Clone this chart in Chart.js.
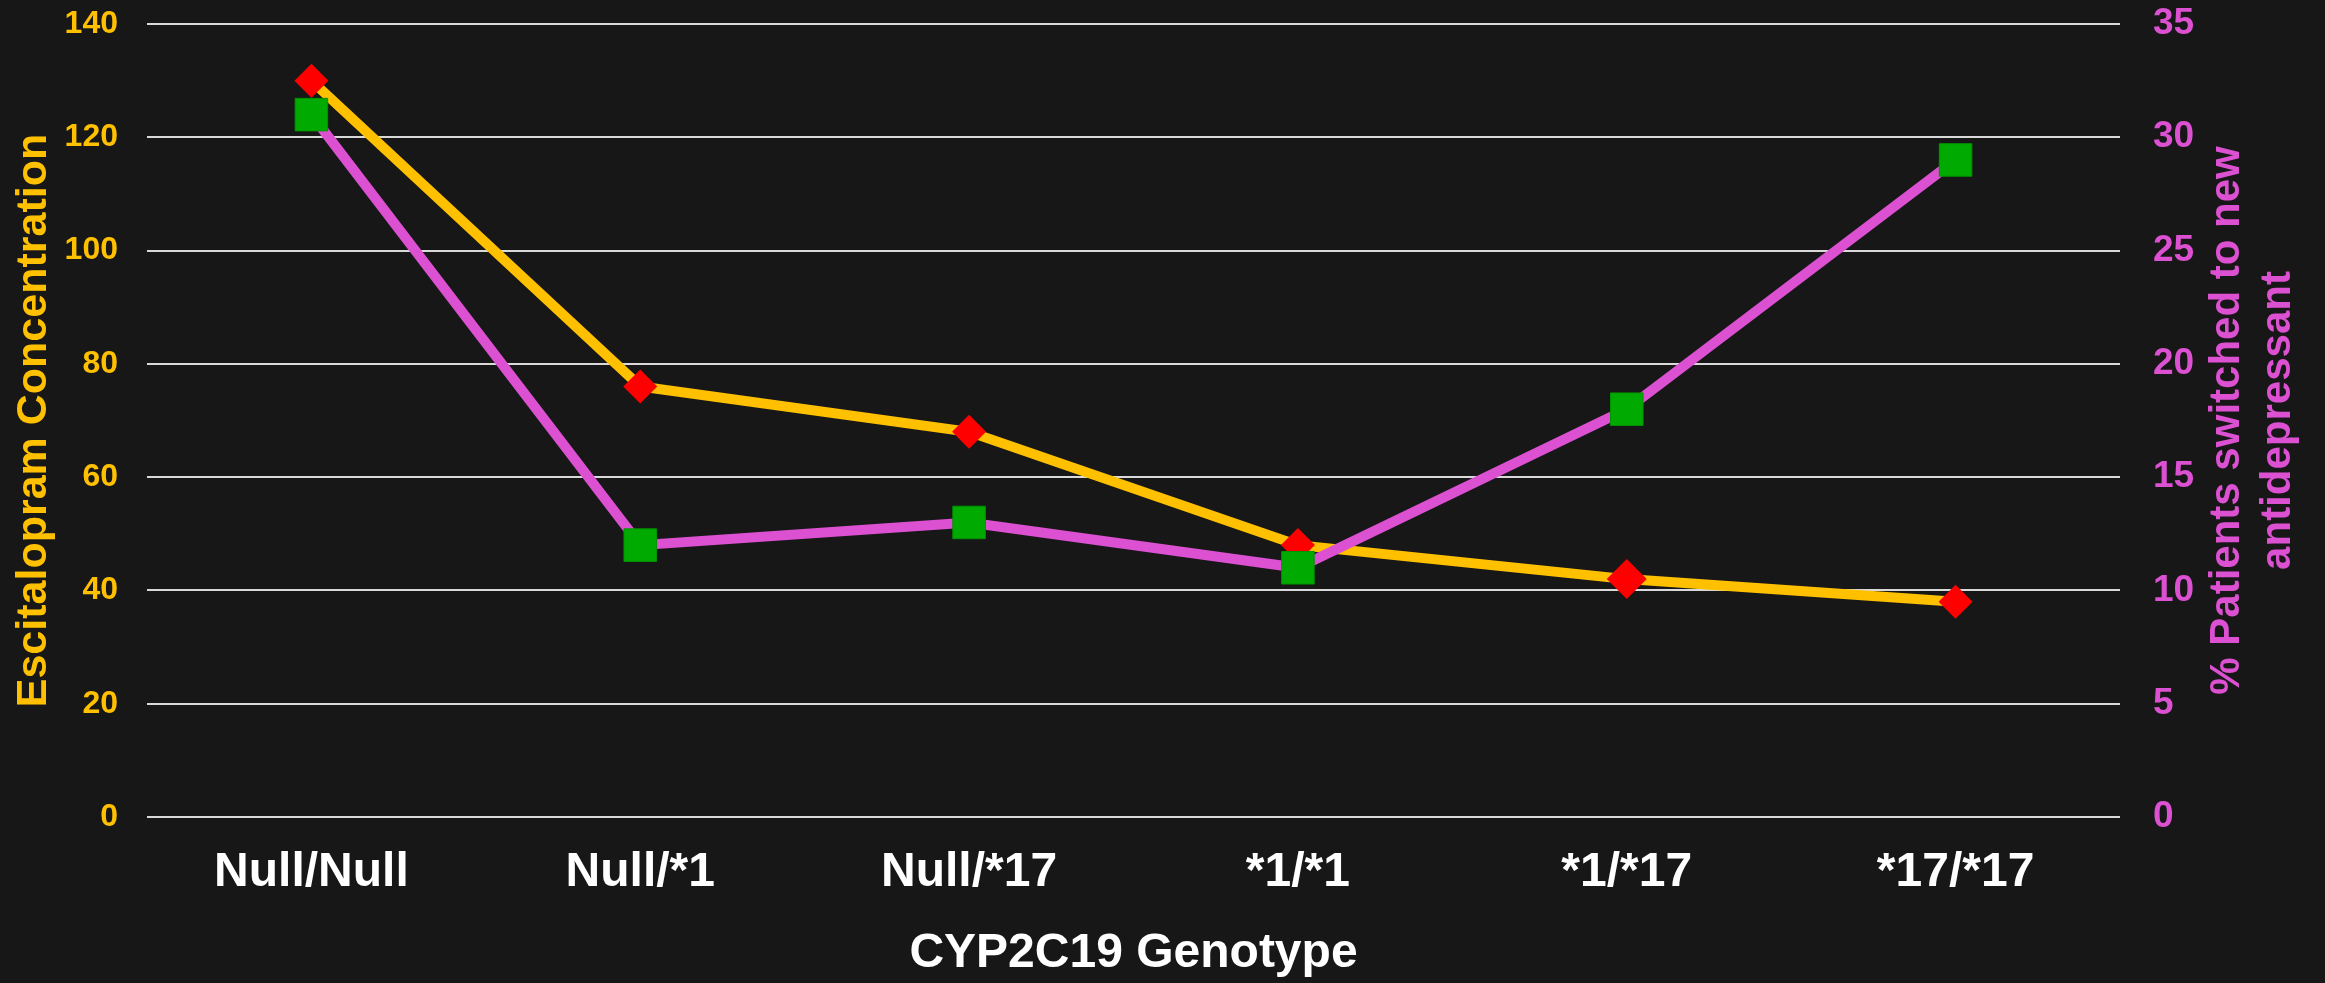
<!DOCTYPE html>
<html>
<head>
<meta charset="utf-8">
<script src="https://cdn.jsdelivr.net/npm/chart.js@4/dist/chart.umd.min.js"></script>
<style>
  html, body { margin: 0; padding: 0; background: #171717; }
  #wrap { width: 2325px; height: 983px; }
</style>
</head>
<body>
<div id="wrap"><canvas id="chart" width="2325" height="983"></canvas></div>
<script>
// categories and series values
const genotypes = ['Null/Null', 'Null/*1', 'Null/*17', '*1/*1', '*1/*17', '*17/*17'];
const concentration = [130, 76, 68, 48, 42, 38];      // left axis
const switchedPct = [31, 12, 13, 11, 18, 29];          // right axis, %

const leftTicks = { min: 0, max: 140, step: 20 };
const rightTicks = { min: 0, max: 35, step: 5 };

const rightTitle = ['% Patients switched to new', 'antidepressant'];

const FONT = "'Liberation Sans', Arial, sans-serif";
const ORANGE = '#FFC000';
const MAGENTA = '#DC50D2';

// right axis title reads bottom-to-top, which chart.js won't do for a right axis
const rightTitlePlugin = {
  id: 'rightTitle',
  afterDraw(chart) {
    const { ctx, chartArea } = chart;
    ctx.save();
    ctx.translate(2227, (chartArea.top + chartArea.bottom) / 2);
    ctx.rotate(-Math.PI / 2);
    ctx.font = `bold 42px ${FONT}`;
    ctx.fillStyle = MAGENTA;
    ctx.textAlign = 'center';
    ctx.textBaseline = 'middle';
    rightTitle.forEach((line, i) => ctx.fillText(line, 0, i * 51));
    ctx.restore();
  }
};

// fixed axis sizes so the plot area lands where the reference has it
const fitY = w => s => { s.width = w; s.paddingTop = 0; s.paddingBottom = 0; };

new Chart(document.getElementById('chart').getContext('2d'), {
  type: 'line',
  data: {
    labels: genotypes,
    datasets: [
      {
        label: '% Patients switched',
        data: switchedPct,
        yAxisID: 'y1',
        borderColor: MAGENTA,
        borderWidth: 10,
        pointStyle: 'rect',
        pointRadius: 23,
        pointBackgroundColor: '#00AA00',
        pointBorderColor: '#009400',
        pointBorderWidth: 1,
        tension: 0
      },
      {
        label: 'Escitalopram Concentration',
        data: concentration,
        yAxisID: 'y',
        borderColor: ORANGE,
        borderWidth: 10,
        pointStyle: 'rectRot',
        pointRadius: [17, 17, 17, 17, 20, 17],
        pointBackgroundColor: '#FF0000',
        pointBorderColor: '#FF0000',
        pointBorderWidth: 0,
        tension: 0
      }
    ]
  },
  options: {
    responsive: false,
    animation: false,
    devicePixelRatio: 1,
    layout: { padding: { top: 23, left: 0, right: 0, bottom: 0 } },
    plugins: { legend: { display: false }, tooltip: { enabled: false } },
    scales: {
      x: {
        offset: true,
        grid: { display: false, drawTicks: false },
        border: { display: false },
        ticks: { color: '#FFFFFF', font: { family: FONT, size: 48, weight: 'bold' }, padding: 27 },
        title: { display: true, text: 'CYP2C19 Genotype', color: '#FFFFFF',
                 font: { family: FONT, size: 48, weight: 'bold' }, padding: { top: 0, bottom: 0 } },
        afterFit: s => { s.height = 166; s.paddingLeft = 0; s.paddingRight = 0; }
      },
      y: {
        position: 'left',
        min: leftTicks.min, max: leftTicks.max,
        grid: { color: '#D9D9D9', lineWidth: 2, drawTicks: false },
        border: { display: false },
        ticks: { stepSize: leftTicks.step, color: ORANGE, padding: 29,
                 font: { family: FONT, size: 32, weight: 'bold' } },
        title: { display: true, text: 'Escitalopram Concentration', color: ORANGE,
                 font: { family: FONT, size: 43, weight: 'bold' }, padding: { top: 8, bottom: 0 } },
        afterFit: fitY(147)
      },
      y1: {
        position: 'right',
        min: rightTicks.min, max: rightTicks.max,
        grid: { display: false, drawTicks: false },
        border: { display: false },
        ticks: { stepSize: rightTicks.step, color: MAGENTA, padding: 33,
                 font: { family: FONT, size: 37, weight: 'bold' } },
        afterFit: fitY(205)
      }
    }
  },
  plugins: [rightTitlePlugin]
});
</script>
</body>
</html>
